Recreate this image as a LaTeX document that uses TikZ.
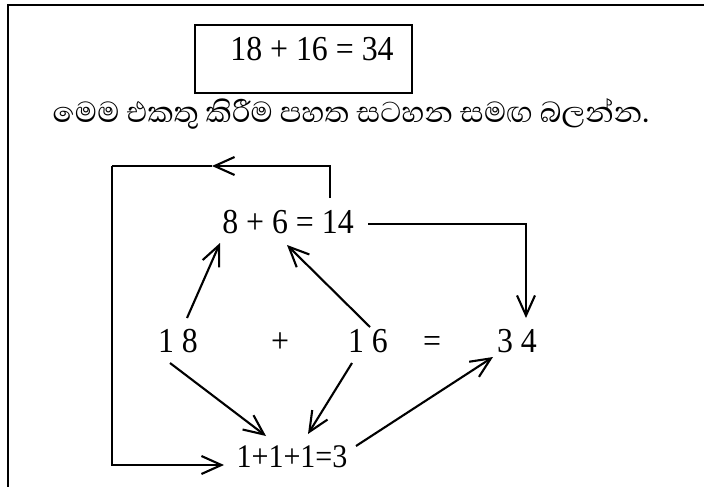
\documentclass[tikz,border=0pt]{standalone}
\usepackage{fontspec}
\setmainfont{Liberation Serif}
\newfontfamily\numfont[FakeStretch=0.91]{Liberation Serif}
\newfontfamily\sinhala[Script=Sinhala]{Abhaya Libre}
\usetikzlibrary{arrows.meta,calc}
\begin{document}
\begin{tikzpicture}[x=1pt,y=-1pt,
  num/.style={anchor=base,inner sep=0pt,font=\numfont\fontsize{35}{40}\selectfont},
  arr/.style={line width=2.1pt,-{Straight Barb[length=20pt,width=18pt,line width=2.1pt]}},
  ln/.style={line width=2.1pt}]
\useasboundingbox (0,0) rectangle (704,487);
\draw[line width=2.8pt] (8,487) -- (8,5) -- (704,5);
\node[draw,line width=2.2pt,minimum width=217pt,minimum height=68pt,inner sep=0pt] (box) at (303.5,59) {};
\node[num] (sum) at (312,60) {18 + 16 = 34};
\node[anchor=center,inner sep=0pt,font=\sinhala\fontsize{37}{42}\selectfont] (instr) at (351,114) {මෙම එකතු කිරීම පහත සටහන සමඟ බලන්න.};
\node[num] (top) at (288,233) {8 + 6 = 14};
\node[num] (n18) at (178,352) {1 8};
\node[num] (plus) at (280,352) {+};
\node[num] (n16) at (368,352) {1 6};
\node[num] (eq) at (432,352) {=};
\node[num] (n34) at (517,352) {3 4};
\node[num,font=\numfont\fontsize{33}{38}\selectfont] (bot) at (292,467) {1+1+1=3};
\coordinate (looptl) at (112,166);
\coordinate (loopmid) at (212,166);
\draw[arr] ($(n18.base)+(9,-34)$) -- ($(top.base)+(-68,10)$);
\draw[arr] ($(n16.base)+(2,-25)$) -- ($(top.base)+(-1,12)$);
\draw[arr] ($(n18.base)+(-8,11)$) -- ($(bot.base)+(-26,-31)$);
\draw[arr] ($(n16.base)+(-16,11)$) -- ($(bot.base)+(16,-33)$);
\draw[arr] ($(bot.base)+(64,-21)$) -- ($(n34.base)+(-24,5)$);
\draw[arr] ($(top.base)+(80,-9)$) -| ($(n34.base)+(9,-34)$);
\draw[arr] ($(top.base)+(42,-35)$) |- (loopmid);
\draw[ln] (loopmid) -- (looptl);
\draw[arr] (looptl) |- ($(bot.base)+(-68,-2)$);
\end{tikzpicture}
\end{document}
